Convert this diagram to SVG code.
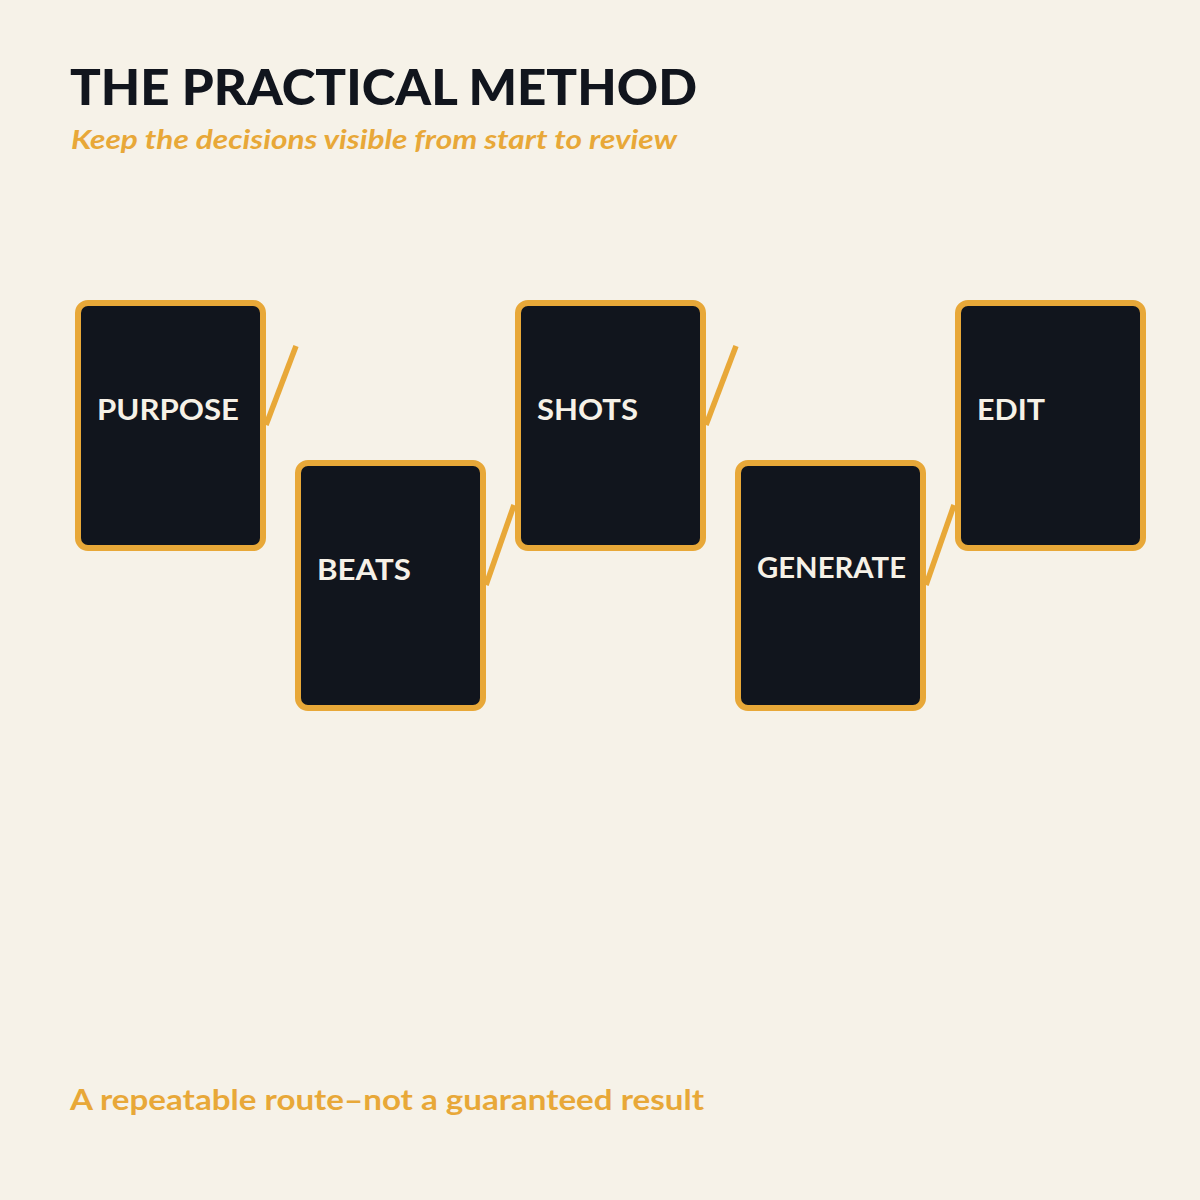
<svg xmlns="http://www.w3.org/2000/svg" width="1200" height="1200" viewBox="0 0 1200 1200">
<style>
.card{fill:#11151d;stroke:#e8a838;stroke-width:6}
.lbl{font-family:Lato,"Noto Sans",sans-serif;font-weight:700;font-size:28px;fill:#f6f1e7}
.conn{stroke:#e8a838;stroke-width:5.5;fill:none}
</style>
<rect width="1200" height="1200" fill="#f6f2e8"/>
<text x="70" y="105" font-family="Lato,'Noto Sans',sans-serif" font-weight="900" font-size="50" fill="#11151d" textLength="627" lengthAdjust="spacingAndGlyphs">THE PRACTICAL METHOD</text>
<text x="71" y="149" font-family="Lato,'Noto Sans',sans-serif" font-style="italic" font-weight="700" font-size="26" fill="#e8a838" textLength="606" lengthAdjust="spacingAndGlyphs">Keep the decisions visible from start to review</text>
<g id="connectors">
<line class="conn" x1="266" y1="425" x2="296" y2="346"/>
<line class="conn" x1="486" y1="585" x2="514" y2="505"/>
<line class="conn" x1="706" y1="425" x2="736" y2="346"/>
<line class="conn" x1="926" y1="585" x2="954" y2="505"/>
</g>
<g id="purpose"><rect class="card" x="78" y="303" width="185" height="245" rx="10"/><text class="lbl" x="97" y="420" textLength="142" lengthAdjust="spacingAndGlyphs">PURPOSE</text></g>
<g id="beats"><rect class="card" x="298" y="463" width="185" height="245" rx="10"/><text class="lbl" x="317" y="580" textLength="94" lengthAdjust="spacingAndGlyphs">BEATS</text></g>
<g id="shots"><rect class="card" x="518" y="303" width="185" height="245" rx="10"/><text class="lbl" x="537" y="420" textLength="101" lengthAdjust="spacingAndGlyphs">SHOTS</text></g>
<g id="generate"><rect class="card" x="738" y="463" width="185" height="245" rx="10"/><text class="lbl" x="757" y="578" font-size="27" textLength="149" lengthAdjust="spacingAndGlyphs">GENERATE</text></g>
<g id="edit"><rect class="card" x="958" y="303" width="185" height="245" rx="10"/><text class="lbl" x="977" y="420" textLength="68" lengthAdjust="spacingAndGlyphs">EDIT</text></g>
<text x="70" y="1110" font-family="Lato,'Noto Sans',sans-serif" font-weight="700" font-size="29" fill="#e8a838" textLength="634" lengthAdjust="spacingAndGlyphs">A repeatable route–not a guaranteed result</text>
</svg>
